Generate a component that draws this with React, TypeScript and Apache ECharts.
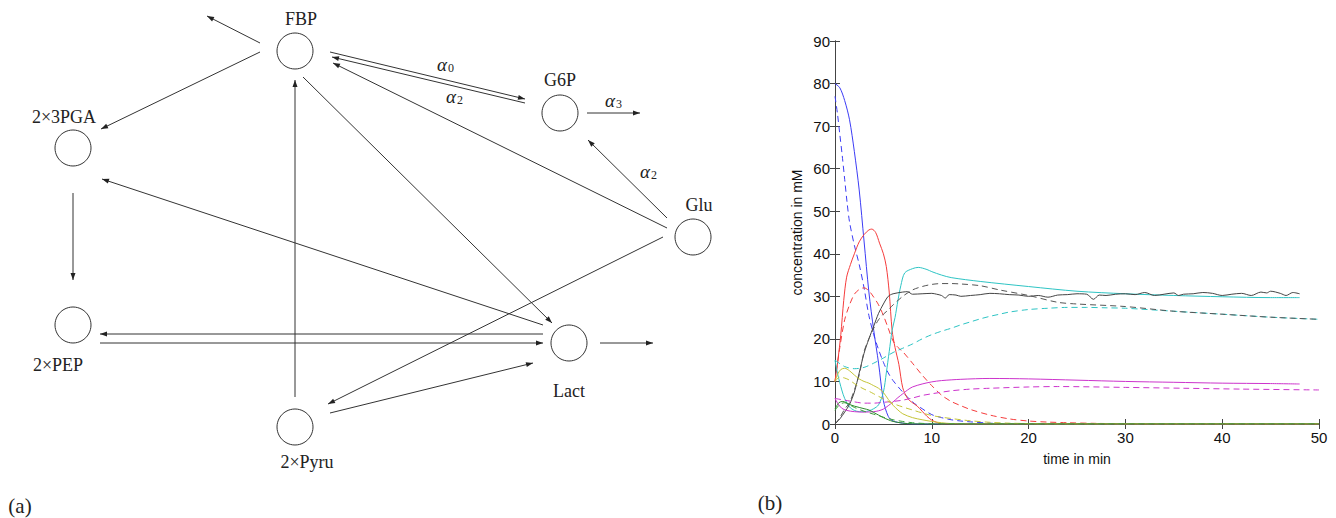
import React, { useEffect, useRef } from "react";
import * as echarts from "echarts";

// ---------- data (time in min, concentration in mM) ----------
const xTicks = [0, 10, 20, 30, 40, 50];
const yTicks = [0, 10, 20, 30, 40, 50, 60, 70, 80, 90];

const blueSolid = [[0,80],[0.5,79],[1,76],[1.5,71.5],[2,64],[2.5,55],[3,43],[3.5,31],[4,22],[4.5,14.3],[5,5.5],[5.5,1.8],[6,0.7],[7,0.2],[8,0],[50,0]];
const blueDashed = [[0,77],[0.25,73],[0.5,68],[0.75,63],[1,57.5],[1.25,52],[1.5,47.5],[2,42],[2.5,37.5],[3,32],[3.5,25.5],[4,21],[4.5,17.5],[5,14.5],[5.5,12],[6,10.2],[7,7.5],[8,5.2],[9,3.6],[10,2.2],[11,1.5],[12,1],[13,0.7],[14,0.5],[16,0.2],[18,0],[50,0]];
const redSolid = [[0,10],[0.3,15],[0.6,21],[0.9,29],[1.2,34.5],[1.6,37.5],[2,40],[2.5,42.8],[3,44.5],[3.5,45.6],[3.8,45.8],[4.2,45],[4.6,42.5],[5,40],[5.3,37],[5.6,31],[5.9,22],[6.2,18],[6.6,14],[7,8.5],[7.5,6],[8,5],[8.5,4.2],[9,3],[9.5,1.8],[10,0.9],[10.5,0.4],[11,0],[50,0]];
const redDashed = [[0,10],[0.5,18],[1,24.5],[1.5,28],[2,30.5],[2.5,31.6],[3,32],[3.5,31.3],[4,29.8],[4.5,28],[5,25.5],[5.5,22.5],[6,19.5],[6.5,18],[7,17],[8,14.3],[9,11.5],[10,9],[11,6.8],[12,5.3],[13,4.3],[14,3.4],[16,2.1],[18,1.2],[20,0.7],[22,0.45],[24,0.3],[27,0.15],[30,0.05],[35,0],[50,0]];
const cyanSolid = [[0,15],[0.3,11.5],[0.7,8],[1,6],[1.5,4],[2,3.2],[2.5,2.9],[3,2.9],[3.5,3.1],[4,3.6],[4.5,4.5],[5,7.5],[5.3,12],[5.6,17],[5.9,22],[6.2,25],[6.5,29],[6.8,32.5],[7.2,35.5],[8,36.5],[8.6,36.8],[9.5,36.3],[10,35.8],[11,35],[12,34.4],[15,33.5],[20,32.3],[25,31.2],[30,30.6],[35,30.2],[40,29.9],[45,29.7],[48,29.7]];
const cyanDashed = [[0,15],[1,13.5],[2,13],[3,13.3],[4,14.3],[5,15.5],[6,16.8],[7,17.8],[8,18.8],[9,20],[10,21],[11,21.8],[12,22.5],[13,23.3],[14,24],[15,24.7],[16,25.3],[17,25.8],[18,26.3],[20,26.9],[22,27.2],[24,27.4],[26,27.4],[28,27.3],[30,27.2],[35,26.5],[40,25.8],[45,25.1],[50,24.6]];
const blackSolid = [[0,0],[0.5,1.2],[1,2.8],[1.5,4.6],[2,7.5],[2.5,12],[3,16.6],[3.5,20],[4,23],[4.5,26],[5,28.2],[5.5,30],[6,30.6],[7,31],[7.5,31.1],[8,30.5],[9,30.6],[10,30.7],[10.5,30.5],[11,30.2],[11.4,29.6],[11.8,30.4],[12.5,30.3],[13,30],[14,30.2],[15,30.4],[16,30.7],[17,30.6],[18,30.4],[19,30.3],[20,30],[21,30.2],[22,29.8],[23,30.3],[24,30.4],[25,30.6],[26,30.5],[26.7,29.3],[27.3,30.3],[28,30.2],[29,30.5],[30,30.6],[31,30.4],[32,30.9],[33,30.2],[34,30.5],[35,30.8],[35.5,30.2],[36,30.5],[37,30.6],[38,30.9],[39,30.7],[40,30.2],[41,30.5],[42,30.7],[43,30.2],[44,31],[44.6,30.8],[45,31.2],[46,30.7],[46.6,30.2],[47.3,30.9],[48,30.6]];
const blackDashed = [[0,0],[0.5,1.5],[1,3.5],[1.5,5],[2,8],[2.5,11.5],[3,17],[3.5,20],[4,22.5],[4.5,24.5],[5,25.8],[5.5,26.8],[6,28],[7,30],[8,31.5],[9,32.3],[10,32.8],[11,33],[12,33],[13,32.9],[15,32.5],[17,31.5],[20,30.2],[23,28.6],[25,28.2],[30,27.6],[35,26.5],[40,25.8],[45,25.1],[50,24.6]];
const magentaSolid = [[0,6],[0.3,4.8],[0.7,3.7],[1.2,3.2],[2,2.9],[3,2.8],[4,2.9],[4.5,3.1],[5,3.5],[5.5,4.3],[6,5.2],[6.5,6.2],[7,7.1],[7.5,8],[8,8.7],[9,9.4],[10,9.9],[11,10.2],[13,10.5],[16,10.7],[20,10.6],[25,10.3],[30,10],[35,9.8],[40,9.6],[45,9.5],[48,9.4]];
const magentaDashed = [[0,6],[1,5.6],[2,5.2],[3,4.9],[4,4.9],[5,5.1],[6,5.3],[7,5.6],[8,6.1],[9,6.7],[10,7.1],[12,7.8],[14,8.2],[16,8.4],[20,8.7],[23,8.8],[30,8.6],[36,8.4],[42,8.2],[50,8]];
const yellowSolid = [[0,10],[0.3,11.8],[0.6,12.8],[1,13.1],[1.5,12.5],[2,11.5],[2.5,10.6],[3,10],[3.5,9.6],[4,9],[4.5,8.4],[5,7.4],[5.5,5.8],[6,4.4],[6.5,3.3],[7,2.4],[8,1.5],[9,1],[10,0.6],[11,0.3],[12,0.1],[14,0],[50,0]];
const yellowDashed = [[0,10],[0.5,11],[1,10.8],[1.5,10.3],[2,9.5],[2.5,8.8],[3,8.2],[3.5,7.7],[4,7.1],[4.5,6.5],[5,5.9],[5.5,5.3],[6,4.8],[7,4],[8,3.3],[9,2.6],[10,2],[11,1.6],[12,1.3],[13,1],[14,0.75],[16,0.4],[18,0.2],[20,0.1],[22,0],[50,0]];
const greenSolid = [[0,3.5],[0.4,5],[0.8,5.3],[1.5,4.6],[2,4.2],[3,3.6],[3.5,3.3],[4,2.7],[4.5,2.1],[5,1.5],[5.5,1],[6,0.6],[7,0.2],[8,0.05],[10,0],[50,0]];
const greenDashed = [[0,3.2],[0.5,4.6],[1,5],[1.5,4.5],[2,3.9],[3,3],[4,2.3],[5,1.6],[6,1],[7,0.6],[8,0.3],[9,0.15],[10,0.05],[12,0],[50,0]];

// ---------- diagram ----------
const nodes = [
  { label: "FBP", cx: 295, cy: 51, tx: 301, ty: 19 },
  { label: "2×3PGA", cx: 73, cy: 148, tx: 64, ty: 117 },
  { label: "G6P", cx: 560, cy: 113, tx: 560, ty: 80 },
  { label: "Glu", cx: 693, cy: 237, tx: 699, ty: 205 },
  { label: "2×PEP", cx: 73, cy: 325, tx: 58, ty: 365 },
  { label: "Lact", cx: 569, cy: 343, tx: 569, ty: 391 },
  { label: "2×Pyru", cx: 295, cy: 427, tx: 307, ty: 462 },
];

// [x1, y1, x2, y2, arrowhead at end]
const edges = [
  [260, 43, 207, 16, 1],
  [260, 52, 101, 129, 1],
  [330, 52, 525, 99, 1],
  [525, 103, 332, 57, 1],
  [667, 228, 333, 63, 1],
  [667, 218, 588, 140, 1],
  [587, 113, 640, 113, 1],
  [663, 237, 328, 404, 1],
  [303, 77, 552, 323, 1],
  [543, 325, 102, 179, 1],
  [543, 334, 100, 334, 1],
  [100, 343, 543, 343, 1],
  [330, 413, 533, 363, 1],
  [295, 397, 295, 80, 1],
  [73, 193, 73, 280, 1],
  [600, 343, 653, 343, 1],
];

const alphaLabels = [
  { x: 442, y: 64, sub: "0" },
  { x: 451, y: 96, sub: "2" },
  { x: 610, y: 100, sub: "3" },
  { x: 645, y: 171, sub: "2" },
];

const SERIF = "Liberation Serif, DejaVu Serif, serif";
const SANS = "Liberation Sans, Arial, sans-serif";
const INK = "#222";

function buildGraphic() {
  const els: any[] = [];
  nodes.forEach((n) => {
    els.push({ type: "circle", shape: { cx: n.cx, cy: n.cy, r: 18 }, style: { fill: "none", stroke: "#333", lineWidth: 1 } });
    els.push({ type: "text", x: n.tx, y: n.ty, style: { text: n.label, fontFamily: SERIF, fontSize: 18, fill: INK, align: "center", verticalAlign: "middle" } });
  });
  edges.forEach(([x1, y1, x2, y2, h]) => {
    els.push({ type: "line", shape: { x1, y1, x2, y2 }, style: { stroke: "#333", lineWidth: 1 } });
    if (h) {
      const dx = x2 - x1, dy = y2 - y1;
      const L = Math.sqrt(dx * dx + dy * dy);
      const ux = dx / L, uy = dy / L;
      const len = 7, hw = 2.5;
      const bx = x2 - ux * len, by = y2 - uy * len;
      els.push({ type: "polygon", shape: { points: [[x2, y2], [bx - uy * hw, by + ux * hw], [bx + uy * hw, by - ux * hw]] }, style: { fill: "#222" } });
    }
  });
  alphaLabels.forEach((a) => {
    els.push({ type: "text", x: a.x, y: a.y, style: { text: "α", fontFamily: SERIF, fontStyle: "italic", fontSize: 19, fill: INK, align: "center", verticalAlign: "middle" } });
    els.push({ type: "text", x: a.x + 9, y: a.y + 4, style: { text: a.sub, fontFamily: SERIF, fontSize: 12, fill: INK, align: "center", verticalAlign: "middle" } });
  });
  els.push({ type: "text", x: 20, y: 506, style: { text: "(a)", fontFamily: SERIF, fontSize: 21, fill: INK, align: "center", verticalAlign: "middle" } });
  els.push({ type: "text", x: 770, y: 503, style: { text: "(b)", fontFamily: SERIF, fontSize: 21, fill: INK, align: "center", verticalAlign: "middle" } });
  return els;
}

function mk(name: string, data: number[][], color: string, dashed: boolean) {
  return {
    name,
    type: "line",
    data,
    showSymbol: false,
    smooth: 0.3,
    xAxisIndex: 0,
    yAxisIndex: 0,
    lineStyle: { color, width: 1, type: dashed ? [6, 4] : "solid" },
    itemStyle: { color },
    z: 3,
  };
}

export default function App() {
  const ref = useRef<HTMLDivElement>(null);
  useEffect(() => {
    document.body.style.margin = "0";
    const chart = echarts.init(ref.current!, null, { renderer: "svg" });
    const axisLine = { show: true, lineStyle: { color: "#444", width: 1 } };
    const tick = { show: true, inside: true, length: 5, lineStyle: { color: "#444" } };
    chart.setOption({
      animation: false,
      backgroundColor: "#fff",
      grid: { left: 835, right: 17, top: 41, bottom: 94, containLabel: false },
      xAxis: [
        {
          type: "value", min: 0, max: 50, interval: 10, position: "bottom",
          axisLine, axisTick: tick, splitLine: { show: false },
          axisLabel: { color: "#111", fontFamily: SANS, fontSize: 15, margin: 6, customValues: xTicks },
          name: "time in min", nameLocation: "middle", nameGap: 28,
          nameTextStyle: { color: "#111", fontFamily: SANS, fontSize: 14 },
        },
        { type: "value", min: 0, max: 50, interval: 10, position: "top", axisLine, axisTick: tick, axisLabel: { show: false }, splitLine: { show: false } },
      ],
      yAxis: [
        {
          type: "value", min: 0, max: 90, interval: 10, position: "left",
          axisLine, axisTick: tick, splitLine: { show: false },
          axisLabel: { color: "#111", fontFamily: SANS, fontSize: 15, margin: 5, customValues: yTicks },
          name: "concentration in mM", nameLocation: "middle", nameGap: 31,
          nameTextStyle: { color: "#111", fontFamily: SANS, fontSize: 14 },
        },
        { type: "value", min: 0, max: 90, interval: 10, position: "right", axisLine, axisTick: tick, axisLabel: { show: false }, splitLine: { show: false } },
      ],
      series: [
        mk("blue", blueSolid, "#3c3cf5", false),
        mk("blue dashed", blueDashed, "#3c3cf5", true),
        mk("red", redSolid, "#f53c3c", false),
        mk("red dashed", redDashed, "#f53c3c", true),
        mk("cyan", cyanSolid, "#2ec4c4", false),
        mk("cyan dashed", cyanDashed, "#2ec4c4", true),
        mk("black", blackSolid, "#444444", false),
        mk("black dashed", blackDashed, "#555555", true),
        mk("magenta", magentaSolid, "#cc33cc", false),
        mk("magenta dashed", magentaDashed, "#cc33cc", true),
        mk("yellow", yellowSolid, "#c4c437", false),
        mk("yellow dashed", yellowDashed, "#c4c437", true),
        mk("green", greenSolid, "#2e8b2e", false),
        mk("green dashed", greenDashed, "#3aa03a", true),
      ],
      graphic: { elements: buildGraphic() },
    });
    return () => chart.dispose();
  }, []);
  return <div ref={ref} style={{ position: "absolute", left: 0, top: 0, width: 1336, height: 518 }} />;
}
